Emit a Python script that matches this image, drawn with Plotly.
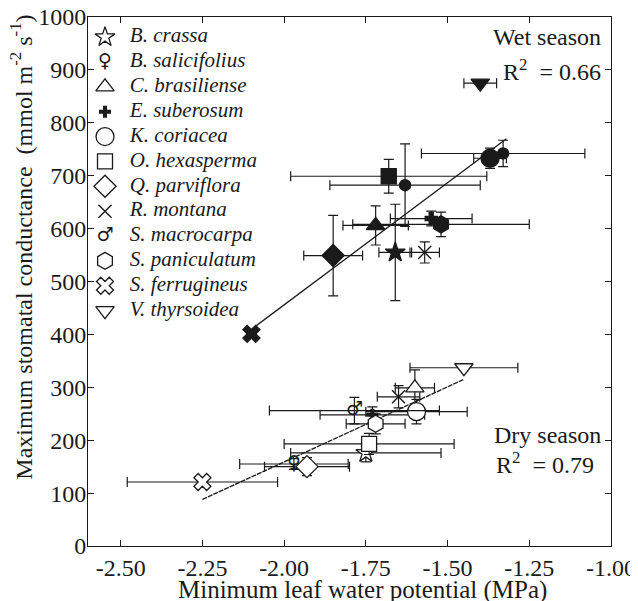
import plotly.graph_objects as go

# species, in legend order
species = ["B. crassa", "B. salicifolius", "C. brasiliense", "E. suberosum",
           "K. coriacea", "O. hexasperma", "Q. parviflora", "R. montana",
           "S. macrocarpa", "S. paniculatum", "S. ferrugineus", "V. thyrsoidea"]

# wet season (filled symbols)
wet_x = [-1.66, -1.63, -1.72, -1.55, -1.37, -1.68, -1.85, -1.57, -1.33, -1.52, -2.10, -1.40]
wet_x_err = [0.05, 0.23, 0.10, 0.125, 0.05, 0.30, 0.09, 0.045, 0.25, 0.27, 0.015, 0.05]
wet_y = [555, 682, 606, 619, 733, 699, 549, 555, 742, 608, 401, 875]
wet_y_err = [91, 78, 37, 14, 19, 32, 76, 20, 25, 23, 8, 0]

# dry season (open symbols)
dry_x = [-1.75, -1.97, -1.60, -1.73, -1.595, -1.74, -1.93, -1.65, -1.785, -1.72, -2.25, -1.45]
dry_x_err = [0.23, 0.166, 0.06, 0.16, 0.155, 0.26, 0.13, 0.065, 0.26, 0.09, 0.23, 0.165]
dry_y = [176, 155, 299, 248, 254, 193, 150, 282, 256, 231, 121, 337]
dry_y_err = [17, 10, 34, 15, 23, 20, 17, 21, 25, 19, 0, 0]

# regression lines (end points)
wet_fit_x = [-2.11, -1.32]
wet_fit_y = [405, 770]
dry_fit_x = [-2.25, -1.45]
dry_fit_y = [88, 315]

x_ticks = [-2.50, -2.25, -2.00, -1.75, -1.50, -1.25, -1.00]
x_tick_text = ["-2.50", "-2.25", "-2.00", "-1.75", "-1.50", "-1.25", "-1.00"]

FONT = "Liberation Serif"
INK = "#1a1a1a"

# marker style per species; None -> drawn as a text glyph
symbols = ["star", None, "triangle-up", "cross", "circle", "square", "diamond",
           "x-thin", None, "hexagon", "x", "triangle-down"]
sizes = [15, 11, 16, 10, 18, 15, 17, 13, 11, 17, 15, 16]
glyphs = {1: "♀", 8: "♂"}


def err(v):
    return dict(type="data", array=[v], color=INK, thickness=1.2, width=5)


def open_marker(sym, size):
    if sym == "x-thin":
        return dict(symbol="x-thin-open", size=size, color=INK, line=dict(color=INK, width=1.4))
    if sym == "cross":
        return dict(symbol="cross", size=size, color=INK, line=dict(color=INK, width=0))
    return dict(symbol=sym, size=size, color="white", line=dict(color=INK, width=1.3))


fig = go.Figure()

fig.add_trace(go.Scatter(x=wet_fit_x, y=wet_fit_y, mode="lines",
                         line=dict(color=INK, width=1.3), showlegend=False))
fig.add_trace(go.Scatter(x=dry_fit_x, y=dry_fit_y, mode="lines",
                         line=dict(color=INK, width=1.3, dash="5px,1px"), showlegend=False))

for i, name in enumerate(species):
    sym = symbols[i]
    # dry season, open symbols
    if sym is None:
        fig.add_trace(go.Scatter(
            x=[dry_x[i]], y=[dry_y[i]], mode="markers+text", text=[glyphs[i]],
            textposition="middle center",
            textfont=dict(family="DejaVu Sans", size=19, color=INK),
            marker=dict(size=1, opacity=0),
            error_x=err(dry_x_err[i]), error_y=err(dry_y_err[i]), showlegend=False))
    else:
        fig.add_trace(go.Scatter(
            x=[dry_x[i]], y=[dry_y[i]], mode="markers", marker=open_marker(sym, sizes[i]),
            error_x=err(dry_x_err[i]), error_y=err(dry_y_err[i]), showlegend=False))

    # wet season, filled symbols
    wsym = "circle" if sym is None else ("x-thin-open" if sym == "x-thin" else sym)
    wsize = sizes[i] if sym is not None else 11
    fig.add_trace(go.Scatter(
        x=[wet_x[i]], y=[wet_y[i]], mode="markers",
        marker=dict(symbol=wsym, size=wsize, color=INK, line=dict(color=INK, width=1.4)),
        error_x=err(wet_x_err[i]), error_y=err(wet_y_err[i]), showlegend=False))

# hand-made legend in the upper left corner
leg_x, leg_tx, leg_top, leg_step = -2.548, -2.472, 962, 47
leg_y = [leg_top - k * leg_step for k in range(len(species))]
for i in range(len(species)):
    sym = symbols[i]
    if sym is None:
        fig.add_trace(go.Scatter(
            x=[leg_x], y=[leg_y[i]], mode="text", text=[glyphs[i]],
            textposition="middle center",
            textfont=dict(family="DejaVu Sans", size=19, color=INK), showlegend=False))
    else:
        fig.add_trace(go.Scatter(x=[leg_x], y=[leg_y[i]], mode="markers",
                                 marker=open_marker(sym, sizes[i]), showlegend=False))

fig.add_trace(go.Scatter(
    x=[leg_tx] * len(species), y=leg_y, mode="text",
    text=[f"<i>{s}</i>" for s in species], textposition="middle right",
    textfont=dict(family=FONT, size=21, color=INK), showlegend=False))

ann_font = dict(family=FONT, size=24, color=INK)
fig.add_annotation(x=-1.025, y=962, text="Wet season", showarrow=False, xanchor="right", font=ann_font)
fig.add_annotation(x=-1.025, y=900, text="R<sup>2</sup>  = 0.66", showarrow=False, xanchor="right", font=ann_font)
fig.add_annotation(x=-1.025, y=210, text="Dry season", showarrow=False, xanchor="right", font=ann_font)
fig.add_annotation(x=-1.045, y=156, text="R<sup>2</sup>  = 0.79", showarrow=False, xanchor="right", font=ann_font)

# axis titles sit slightly off-centre in the original, so place them by hand
fig.add_annotation(xref="paper", yref="paper", x=-0.127, y=0.565, textangle=-90,
                   xanchor="center", yanchor="middle",
                   text="Maximum stomatal conductance  (mmol m<sup>-2</sup> s<sup>-1</sup>)",
                   showarrow=False, font=dict(family=FONT, size=24, color=INK))
fig.add_annotation(xref="paper", yref="paper", x=0.524, y=-0.083,
                   xanchor="center", yanchor="middle",
                   text="Minimum leaf water potential (MPa)",
                   showarrow=False, font=dict(family=FONT, size=25, color=INK))

axis_common = dict(showline=True, linecolor=INK, linewidth=1, mirror="ticks",
                   ticks="inside", ticklen=6, tickcolor=INK, showgrid=False,
                   zeroline=False, ticklabeloverflow="allow",
                   tickfont=dict(family=FONT, size=24, color=INK))

fig.update_xaxes(range=[-2.6, -1.0], tickvals=x_ticks, ticktext=x_tick_text, **axis_common)
fig.update_yaxes(range=[0, 1000], dtick=100, ticklabelstandoff=-4, **axis_common)

# page body has an 8px margin, so the figure is 8px smaller with trimmed margins
fig.update_layout(width=630, height=593, plot_bgcolor="white", paper_bgcolor="white",
                  margin=dict(l=80, r=27, t=9, b=55, autoexpand=False),
                  showlegend=False)

fig.write_html("out.html")
